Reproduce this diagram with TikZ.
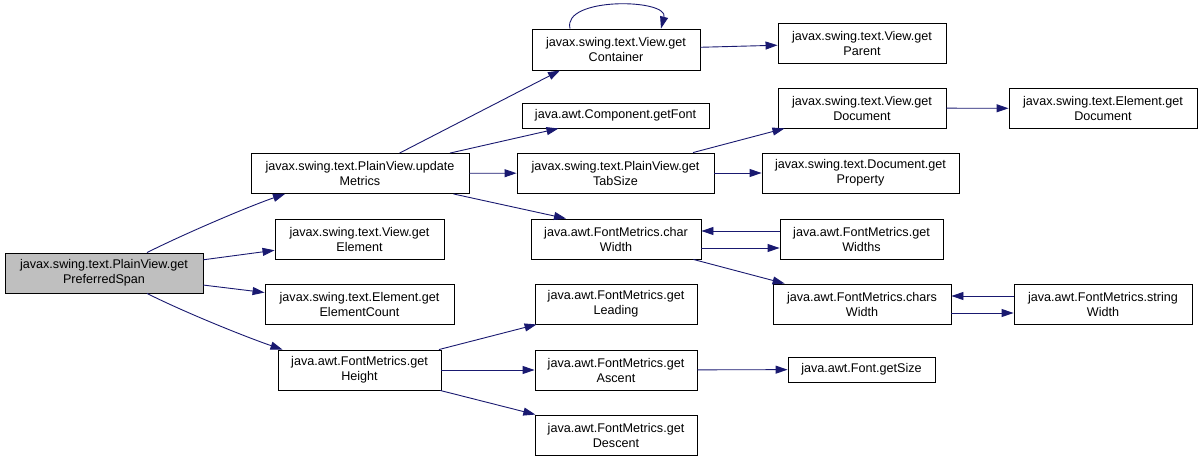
\documentclass[tikz,border=0pt]{standalone}
\usepackage{fontspec}
\setmainfont{Liberation Sans}
\usepackage{tikz}
\definecolor{edgeblue}{RGB}{25, 25, 112}
\definecolor{hl}{RGB}{191, 191, 191}
\usetikzlibrary{arrows.meta}
\usetikzlibrary{positioning}

\begin{document}
\begin{tikzpicture}
			[x=1pt,y=-1pt,
			fn/.style={rectangle, draw=black, line width=0.9pt, align=center, inner sep=0pt, minimum height=40pt, font=\fontsize{12.6}{15}\selectfont},
			fn1/.style={fn, minimum height=25pt},
			call/.style={draw=edgeblue, line width=0.9pt, -{Triangle[length=12pt,width=8pt]}}]
			\useasboundingbox (0,0) rectangle (1203,461);
			% column 0 and 1
			\node (span) [fn, fill=hl, minimum width=198pt] at (104, 273) {javax.swing.text.PlainView.get\\PreferredSpan};
			\node (upd) [fn, minimum width=218pt] at (360, 173.5) {javax.swing.text.PlainView.update\\Metrics};
			\node (elem) [fn, minimum width=169pt] at (359.5, 239) {javax.swing.text.View.get\\Element};
			\node (ecount) [fn, minimum width=189pt] at (359.5, 304) {javax.swing.text.Element.get\\ElementCount};
			\node (height) [fn, minimum width=163pt] at (359.5, 370) {java.awt.FontMetrics.get\\Height};
			% column 2
			\node (cont) [fn, minimum width=168pt, minimum height=41pt] at (616, 49.5) {javax.swing.text.View.get\\Container};
			\node (font) [fn1, minimum width=187pt] at (615.5, 115.5) {java.awt.Component.getFont};
			\node (tab) [fn, minimum width=197pt] at (615.5, 173) {javax.swing.text.PlainView.get\\TabSize};
			\node (cw) [fn, minimum width=170pt] at (616, 239) {java.awt.FontMetrics.char\\Width};
			\node (lead) [fn, minimum width=162pt] at (616, 304) {java.awt.FontMetrics.get\\Leading};
			\node (asc) [fn, minimum width=162pt] at (616, 370) {java.awt.FontMetrics.get\\Ascent};
			\node (desc) [fn, minimum width=162pt] at (616, 435) {java.awt.FontMetrics.get\\Descent};
			% column 3
			\node (parent) [fn, minimum width=168pt] at (862, 43) {javax.swing.text.View.get\\Parent};
			\node (vdoc) [fn, minimum width=168pt] at (862, 108) {javax.swing.text.View.get\\Document};
			\node (prop) [fn, minimum width=197pt] at (860.5, 173) {javax.swing.text.Document.get\\Property};
			\node (widths) [fn, minimum width=163pt] at (861.5, 239) {java.awt.FontMetrics.get\\Widths};
			\node (csw) [fn, minimum width=178pt] at (862, 304) {java.awt.FontMetrics.chars\\Width};
			\node (size) [fn1, minimum width=147pt] at (861.5, 369.5) {java.awt.Font.getSize};
			% column 4
			\node (edoc) [fn, minimum width=188pt] at (1103, 108.5) {javax.swing.text.Element.get\\Document};
			\node (sw) [fn, minimum width=178pt] at (1103, 304) {java.awt.FontMetrics.string\\Width};
			% calls
			\draw [call] ([xshift=43pt]span.north) .. controls +(40,-20) and +(-35,12) .. ([xshift=-75pt]upd.south);
			\draw [call] (span) -- (elem);
			\draw [call] (span) -- (ecount);
			\draw [call] ([xshift=43pt]span.south) .. controls +(40,20) and +(-35,-12) .. ([xshift=-77pt]height.north);
			\draw [call] (upd) -- ([xshift=-56pt]cont.south);
			\draw [call] (upd) -- (font);
			\draw [call] (upd) -- (tab);
			\draw [call] (upd) -- ([xshift=-50pt]cw.north);
			\draw [call] ([xshift=-46pt]cont.north) .. controls +(-8,-32) and +(8,-30) .. ([xshift=45pt]cont.north);
			\draw [call] (cont) -- (parent);
			\draw [call] (tab) -- (vdoc);
			\draw [call] (tab) -- (prop);
			\draw [call] (vdoc) -- (edoc);
			\draw [call] ([yshift=8pt]widths.west) -- ([yshift=8pt]cw.east);
			\draw [call] ([yshift=-9pt]cw.east) -- ([yshift=-9pt]widths.west);
			\draw [call] (cw) -- (csw);
			\draw [call] ([yshift=8pt]sw.west) -- ([yshift=8pt]csw.east);
			\draw [call] ([yshift=-9pt]csw.east) -- ([yshift=-9pt]sw.west);
			\draw [call] (height) -- (lead);
			\draw [call] (height) -- (asc);
			\draw [call] (height) -- (desc);
			\draw [call] (asc) -- (size);
		\end{tikzpicture}
\end{document}
